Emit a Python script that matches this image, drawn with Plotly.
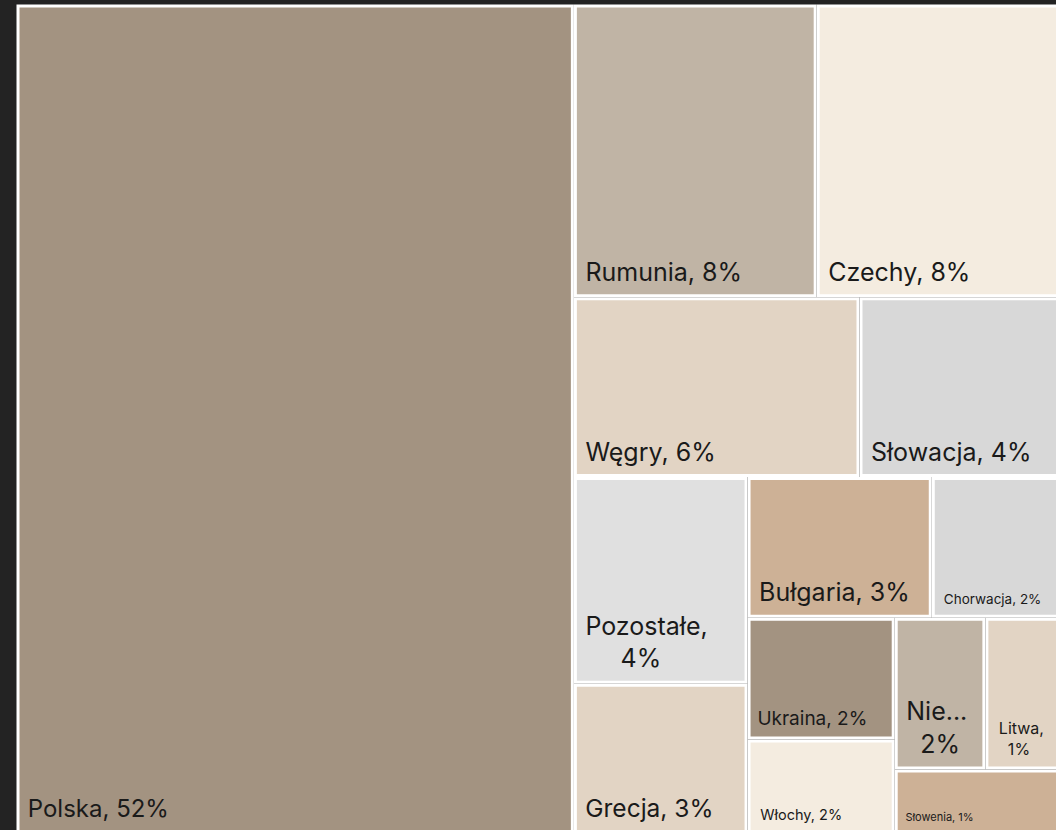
import plotly.graph_objects as go

countries = [
    "Polska", "Rumunia", "Czechy", "Węgry", "Słowacja", "Pozostałe",
    "Grecja", "Bułgaria", "Chorwacja", "Ukraina", "Włochy", "Niemcy",
    "Litwa", "Słowenia",
]
shares = [53.44, 8.22, 8.22, 5.94, 4.16, 4.15, 3.01, 3.00, 2.08, 2.07,
          1.60, 1.59, 1.30, 1.22]
tile_labels = [
    "Polska, 52%", "Rumunia, 8%", "Czechy, 8%", "Węgry, 6%", "Słowacja, 4%",
    "Pozostałe,<br>\u00a0\u00a0\u00a0\u00a0\u00a04%", "Grecja, 3%",
    "Bułgaria, 3%", "Chorwacja, 2%", "Ukraina, 2%", "Włochy, 2%",
    "Nie...<br>\u00a0\u00a02%", "Litwa,<br>\u00a0\u00a01%", "Słowenia, 1%",
]
colors = [
    "#a39381", "#c0b4a5", "#f4ece0", "#e2d4c4", "#d8d8d8", "#e0e0e0",
    "#e2d4c4", "#cdb196", "#d8d8d8", "#a39381", "#f4ece0", "#c0b4a5",
    "#e2d4c4", "#cdb196",
]
font_sizes = [24, 25, 25, 25, 25, 25, 24.5, 25, 13.5, 19, 14.5, 25, 16, 11]


def pad_label(label, size):
    # small indent on the left, a tall blank at the end lifts the text off the bottom edge
    lead = "\u00a0" if size >= 17 else "\u00a0\u00a0"
    lines = [lead + line for line in label.split("<br>")]
    lines[-1] += '<span style="font-size:%dpx">\u00a0</span>' % round(size + 24)
    return "<br>".join(lines)


shown = [pad_label(t, s) for t, s in zip(tile_labels, font_sizes)]

fig = go.Figure(
    go.Treemap(
        labels=countries,
        parents=[""] * len(countries),
        values=shares,
        text=shown,
        textinfo="text",
        textposition="bottom left",
        textfont=dict(family="Inter", color="#1a1a1a", size=font_sizes),
        marker=dict(
            colors=colors,
            line=dict(color="#ffffff", width=3),
            pad=dict(t=0, l=0, r=0, b=0),
        ),
        tiling=dict(squarifyratio=1.04),
        pathbar=dict(visible=False),
    )
)

# the chart runs a couple of pixels past the right and bottom edges of the window
fig.update_layout(
    width=1058,
    height=832,
    margin=dict(l=18, r=0, t=6, b=0),
    paper_bgcolor="#232323",
    showlegend=False,
)

fig.write_html(
    "out.html",
    config={"displayModeBar": False},
    post_script="document.body.style.margin='0'; document.body.style.overflow='hidden';",
)
